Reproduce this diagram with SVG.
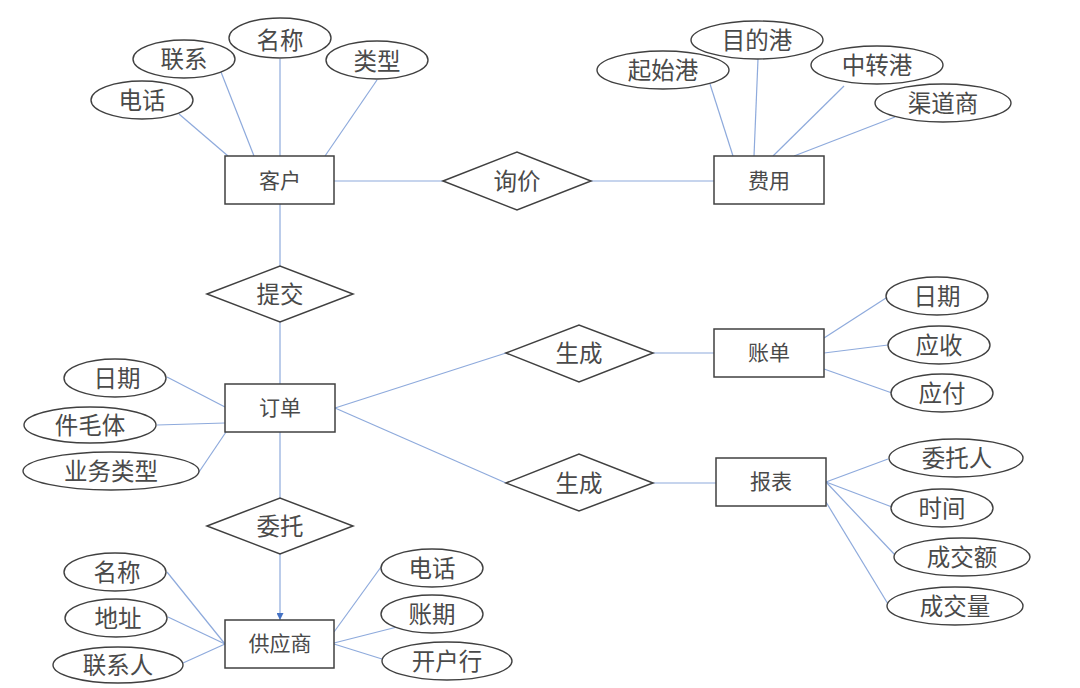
<svg xmlns="http://www.w3.org/2000/svg" width="1080" height="688" viewBox="0 0 1080 688">
<defs>
<style>
.e{fill:#fff;stroke:#404040;stroke-width:1.4}
.b{fill:#fff;stroke:#404040;stroke-width:1.5}
.c{stroke:#8eaadc;stroke-width:1.2;fill:none}
text{font-family:"Noto Sans CJK SC","Noto Sans",sans-serif;fill:#4a4a4a;text-anchor:middle}
.t{font-size:23.5px}
.s{font-size:21px}
</style>
<marker id="ah" viewBox="0 0 10 10" refX="10" refY="5" markerWidth="7" markerHeight="7" markerUnits="userSpaceOnUse" orient="auto">
<path d="M0,0 L10,5 L0,10 z" fill="#4472c4"/>
</marker>
</defs>
<rect width="1080" height="688" fill="#fff"/>
<g id="connectors">
<line class="c" x1="179" y1="114" x2="228" y2="156"/>
<line class="c" x1="221" y1="72" x2="254" y2="156"/>
<line class="c" x1="280" y1="59" x2="280" y2="156"/>
<line class="c" x1="377" y1="80" x2="325" y2="156"/>
<line class="c" x1="334" y1="181" x2="443" y2="181"/>
<line class="c" x1="591" y1="181" x2="714" y2="181"/>
<line class="c" x1="710" y1="84" x2="733" y2="156"/>
<line class="c" x1="758" y1="59" x2="754" y2="156"/>
<line class="c" x1="844" y1="86" x2="773" y2="156"/>
<line class="c" x1="895" y1="117" x2="794" y2="156"/>
<line class="c" x1="280" y1="204" x2="280" y2="266"/>
<line class="c" x1="280" y1="322" x2="280" y2="384"/>
<line class="c" x1="167" y1="377" x2="225" y2="407"/>
<line class="c" x1="157" y1="425" x2="225" y2="423"/>
<line class="c" x1="199" y1="472" x2="226" y2="432"/>
<line class="c" x1="335" y1="408" x2="506" y2="353"/>
<line class="c" x1="335" y1="408" x2="506" y2="483"/>
<line class="c" x1="653" y1="353" x2="714" y2="353"/>
<line class="c" x1="653" y1="483" x2="716" y2="483"/>
<line class="c" x1="824" y1="338" x2="886" y2="298"/>
<line class="c" x1="824" y1="353" x2="888" y2="345"/>
<line class="c" x1="824" y1="369" x2="892" y2="393"/>
<line class="c" x1="826" y1="482" x2="888" y2="459"/>
<line class="c" x1="826" y1="482" x2="892" y2="507"/>
<line class="c" x1="826" y1="482" x2="895" y2="555"/>
<line class="c" x1="826" y1="502" x2="888" y2="604"/>
<line class="c" x1="280" y1="432" x2="280" y2="498"/>
<line class="c" x1="280" y1="554" x2="280" y2="620" stroke="#6f8fd6" marker-end="url(#ah)"/>
<line class="c" x1="167" y1="572" x2="225" y2="644"/>
<line class="c" x1="168" y1="617" x2="225" y2="644"/>
<line class="c" x1="183" y1="663" x2="225" y2="644"/>
<line class="c" x1="381" y1="567" x2="334" y2="632"/>
<line class="c" x1="397" y1="627" x2="334" y2="643"/>
<line class="c" x1="382" y1="659" x2="334" y2="644"/>
</g>
<g id="kehu"><rect class="b" x="225" y="156" width="109" height="48"/><text class="s" x="280" y="188">客户</text></g>
<g id="kehu-dianhua"><ellipse class="e" cx="142" cy="100" rx="51" ry="19"/><text class="t" x="142" y="109">电话</text></g>
<g id="kehu-lianxi"><ellipse class="e" cx="184" cy="59" rx="51" ry="19"/><text class="t" x="184" y="68">联系</text></g>
<g id="kehu-mingcheng"><ellipse class="e" cx="280" cy="38" rx="51" ry="20"/><text class="t" x="280" y="49">名称</text></g>
<g id="kehu-leixing"><ellipse class="e" cx="377" cy="60" rx="51" ry="19"/><text class="t" x="377" y="70">类型</text></g>
<g id="xunjia"><polygon class="b" points="443,181 517,152 591,181 517,210"/><text class="t" x="517" y="190">询价</text></g>
<g id="feiyong"><rect class="b" x="714" y="156" width="110" height="48"/><text class="s" x="769" y="188">费用</text></g>
<g id="qishigang"><ellipse class="e" cx="663" cy="70" rx="66" ry="19"/><text class="t" x="663" y="79">起始港</text></g>
<g id="mudigang"><ellipse class="e" cx="757" cy="40" rx="66" ry="19"/><text class="t" x="757" y="49">目的港</text></g>
<g id="zhongzhuangang"><ellipse class="e" cx="877" cy="65" rx="66" ry="19"/><text class="t" x="877" y="74">中转港</text></g>
<g id="qudaoshang"><ellipse class="e" cx="943" cy="103" rx="68" ry="19"/><text class="t" x="943" y="112">渠道商</text></g>
<g id="tijiao"><polygon class="b" points="207,294 280,266 353,294 280,322"/><text class="t" x="280" y="303">提交</text></g>
<g id="dingdan"><rect class="b" x="225" y="384" width="110" height="48"/><text class="s" x="280" y="415">订单</text></g>
<g id="dingdan-riqi"><ellipse class="e" cx="115" cy="378" rx="51" ry="19"/><text class="t" x="117" y="387">日期</text></g>
<g id="dingdan-jianmaoti"><ellipse class="e" cx="90" cy="425" rx="66" ry="18"/><text class="t" x="90" y="434">件毛体</text></g>
<g id="dingdan-yewuleixing"><ellipse class="e" cx="111" cy="471" rx="88" ry="19"/><text class="t" x="111" y="480">业务类型</text></g>
<g id="shengcheng1"><polygon class="b" points="506,353 579,325 653,353 579,382"/><text class="t" x="579" y="362">生成</text></g>
<g id="zhangdan"><rect class="b" x="714" y="329" width="110" height="48"/><text class="s" x="769" y="360">账单</text></g>
<g id="zhangdan-riqi"><ellipse class="e" cx="937" cy="296" rx="51" ry="19"/><text class="t" x="937" y="305">日期</text></g>
<g id="yingshou"><ellipse class="e" cx="939" cy="345" rx="51" ry="19"/><text class="t" x="939" y="354">应收</text></g>
<g id="yingfu"><ellipse class="e" cx="942" cy="393" rx="51" ry="19"/><text class="t" x="942" y="402">应付</text></g>
<g id="shengcheng2"><polygon class="b" points="506,483 579,454 653,483 579,511"/><text class="t" x="579" y="492">生成</text></g>
<g id="baobiao"><rect class="b" x="716" y="458" width="110" height="48"/><text class="s" x="771" y="489">报表</text></g>
<g id="weituoren"><ellipse class="e" cx="956" cy="458" rx="67" ry="19"/><text class="t" x="957" y="467">委托人</text></g>
<g id="shijian"><ellipse class="e" cx="942" cy="508" rx="51" ry="19"/><text class="t" x="942" y="517">时间</text></g>
<g id="chengjiaoe"><ellipse class="e" cx="962" cy="557" rx="68" ry="19"/><text class="t" x="962" y="566">成交额</text></g>
<g id="chengjiaoliang"><ellipse class="e" cx="955" cy="606" rx="68" ry="19"/><text class="t" x="955" y="615">成交量</text></g>
<g id="weituo"><polygon class="b" points="207,526 280,498 353,526 280,554"/><text class="t" x="280" y="535">委托</text></g>
<g id="gongyingshang"><rect class="b" x="225" y="620" width="109" height="48"/><text class="s" x="280" y="651">供应商</text></g>
<g id="gys-mingcheng"><ellipse class="e" cx="115" cy="572" rx="51" ry="19"/><text class="t" x="117" y="581">名称</text></g>
<g id="gys-dizhi"><ellipse class="e" cx="116" cy="618" rx="51" ry="19"/><text class="t" x="118" y="627">地址</text></g>
<g id="gys-lianxiren"><ellipse class="e" cx="118" cy="665" rx="65" ry="18"/><text class="t" x="118" y="674">联系人</text></g>
<g id="gys-dianhua"><ellipse class="e" cx="432" cy="568" rx="51" ry="19"/><text class="t" x="432" y="577">电话</text></g>
<g id="gys-zhangqi"><ellipse class="e" cx="432" cy="614" rx="51" ry="19"/><text class="t" x="432" y="623">账期</text></g>
<g id="gys-kaihuhang"><ellipse class="e" cx="447" cy="661" rx="65" ry="19"/><text class="t" x="447" y="670">开户行</text></g>
</svg>
